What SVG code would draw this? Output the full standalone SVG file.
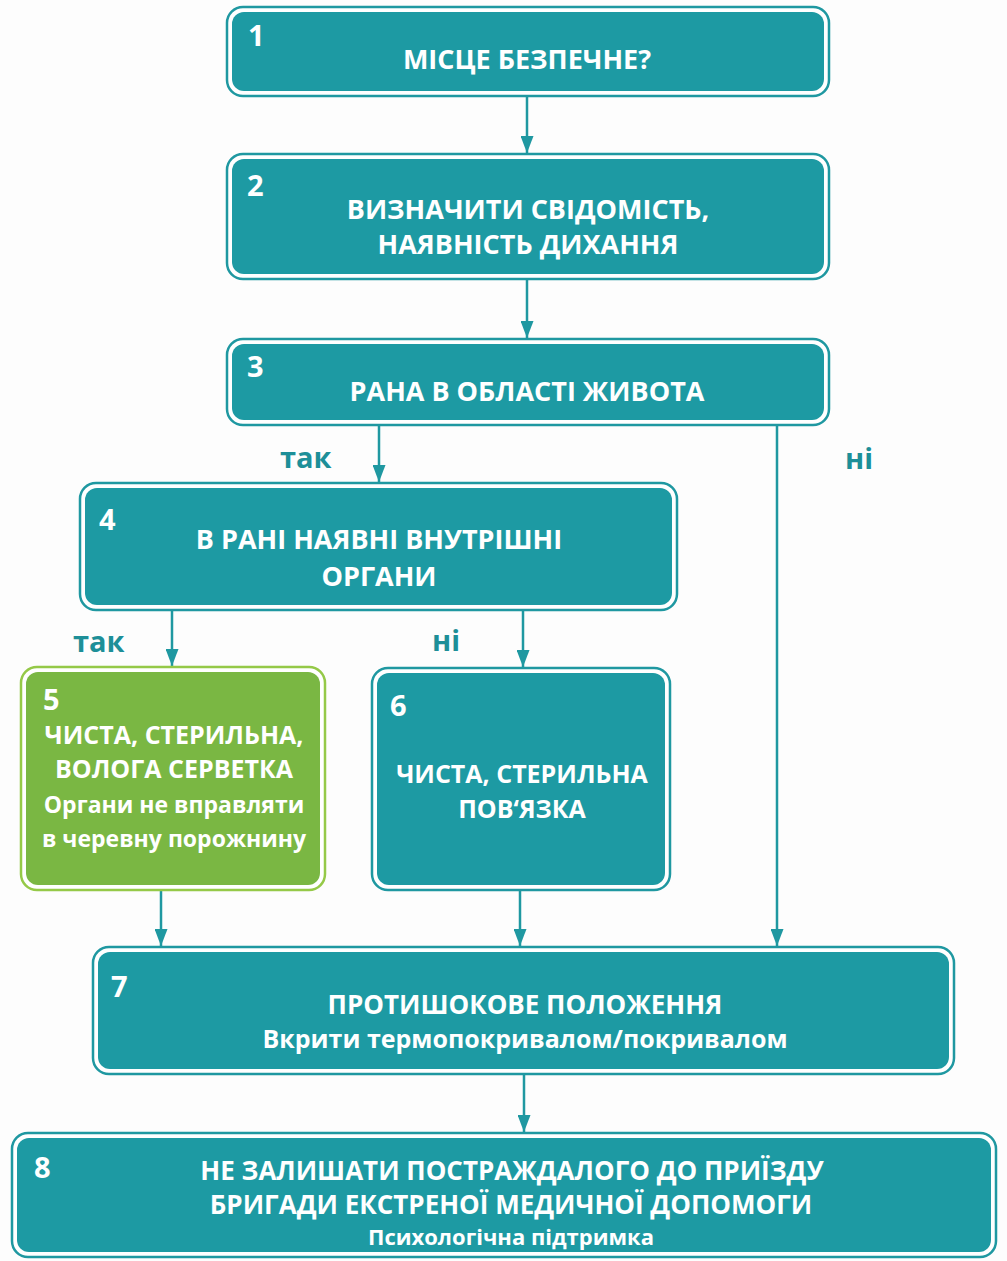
<svg xmlns="http://www.w3.org/2000/svg" width="1007" height="1261" viewBox="0 0 1007 1261">
<style>
.outer{fill:#ffffff;stroke:#1f98a1;stroke-width:2.5}
.inner{fill:#1d9aa3}
.gouter{fill:#ffffff;stroke:#95c948;stroke-width:2.5}
.ginner{fill:#7ab743}
text{font-family:"Open Sans","Noto Sans","DejaVu Sans",sans-serif;font-weight:bold;fill:#ffffff}
.num{font-size:29px}
.t{font-size:27px;text-anchor:middle}
.m{font-size:25px;text-anchor:middle}
.s{font-size:23px;text-anchor:middle}
.lbl{font-size:29px;fill:#1d8f98}
.conn{stroke:#1f98a1;stroke-width:2.5;fill:none}
</style>
<defs>
<marker id="a" markerWidth="17" markerHeight="13" refX="17" refY="6.5" orient="auto" markerUnits="userSpaceOnUse" viewBox="0 0 17 13">
<path d="M0,0 L17,6.5 L0,13 Z" fill="#1f98a1"/>
</marker>
</defs>
<rect width="1007" height="1261" fill="#fdfdfd"/>
<g id="connectors">
<line class="conn" x1="527" y1="96" x2="527" y2="153" marker-end="url(#a)"/>
<line class="conn" x1="527" y1="279" x2="527" y2="338" marker-end="url(#a)"/>
<line class="conn" x1="379" y1="425" x2="379" y2="482" marker-end="url(#a)"/>
<line class="conn" x1="777" y1="425" x2="777" y2="946" marker-end="url(#a)"/>
<line class="conn" x1="172" y1="610" x2="172" y2="666" marker-end="url(#a)"/>
<line class="conn" x1="523" y1="610" x2="523" y2="667" marker-end="url(#a)"/>
<line class="conn" x1="161" y1="890" x2="161" y2="946" marker-end="url(#a)"/>
<line class="conn" x1="520" y1="890" x2="520" y2="946" marker-end="url(#a)"/>
<line class="conn" x1="524" y1="1075" x2="524" y2="1132" marker-end="url(#a)"/>
<text class="lbl" x="280" y="468">так</text>
<text class="lbl" x="845" y="469">ні</text>
<text class="lbl" x="73" y="652">так</text>
<text class="lbl" x="432" y="651">ні</text>
</g>
<g id="node1">
<rect class="outer" x="227" y="7" width="602" height="89" rx="16"/>
<rect class="inner" x="232" y="12" width="592" height="79" rx="12"/>
<text class="num" x="248" y="46">1</text>
<text class="t" x="527" y="69">МІСЦЕ БЕЗПЕЧНЕ?</text>
</g>
<g id="node2">
<rect class="outer" x="227" y="154" width="602" height="125" rx="16"/>
<rect class="inner" x="232" y="159" width="592" height="115" rx="12"/>
<text class="num" x="247" y="196">2</text>
<text class="t" x="528" y="219">ВИЗНАЧИТИ СВІДОМІСТЬ,</text>
<text class="t" x="528" y="254">НАЯВНІСТЬ ДИХАННЯ</text>
</g>
<g id="node3">
<rect class="outer" x="227" y="339" width="602" height="86" rx="16"/>
<rect class="inner" x="232" y="344" width="592" height="76" rx="12"/>
<text class="num" x="247" y="377">3</text>
<text class="t" x="527" y="401">РАНА В ОБЛАСТІ ЖИВОТА</text>
</g>
<g id="node4">
<rect class="outer" x="80" y="483" width="597" height="127" rx="16"/>
<rect class="inner" x="85" y="488" width="587" height="117" rx="12"/>
<text class="num" x="99" y="530">4</text>
<text class="t" x="379" y="549">В РАНІ НАЯВНІ ВНУТРІШНІ</text>
<text class="t" x="379" y="586">ОРГАНИ</text>
</g>
<g id="node5">
<rect class="gouter" x="21" y="667" width="304" height="223" rx="16"/>
<rect class="ginner" x="26" y="672" width="294" height="213" rx="12"/>
<text class="num" x="43" y="710">5</text>
<text class="m" x="174" y="744">ЧИСТА, СТЕРИЛЬНА,</text>
<text class="m" x="174" y="778">ВОЛОГА СЕРВЕТКА</text>
<text class="s" x="174" y="813">Органи не вправляти</text>
<text class="s" x="174" y="847">в черевну порожнину</text>
</g>
<g id="node6">
<rect class="outer" x="372" y="668" width="298" height="222" rx="16"/>
<rect class="inner" x="377" y="673" width="288" height="212" rx="12"/>
<text class="num" x="390" y="716">6</text>
<text class="m" x="522" y="783">ЧИСТА, СТЕРИЛЬНА</text>
<text class="m" x="522" y="818">ПОВ‘ЯЗКА</text>
</g>
<g id="node7">
<rect class="outer" x="93" y="947" width="861" height="127" rx="16"/>
<rect class="inner" x="98" y="952" width="851" height="117" rx="12"/>
<text class="num" x="111" y="997">7</text>
<text class="t" x="525" y="1014" style="font-size:26px">ПРОТИШОКОВЕ ПОЛОЖЕННЯ</text>
<text class="m" x="525" y="1048">Вкрити термопокривалом/покривалом</text>
</g>
<g id="node8">
<rect class="outer" x="12" y="1133" width="984" height="124" rx="16"/>
<rect class="inner" x="17" y="1138" width="974" height="114" rx="12"/>
<text class="num" x="34" y="1178">8</text>
<text class="t" x="512" y="1180" style="font-size:26px">НЕ ЗАЛИШАТИ ПОСТРАЖДАЛОГО ДО ПРИЇЗДУ</text>
<text class="t" x="511" y="1214" style="font-size:26px">БРИГАДИ ЕКСТРЕНОЇ МЕДИЧНОЇ ДОПОМОГИ</text>
<text class="s" x="511" y="1245" style="font-size:22px">Психологічна підтримка</text>
</g>
</svg>
